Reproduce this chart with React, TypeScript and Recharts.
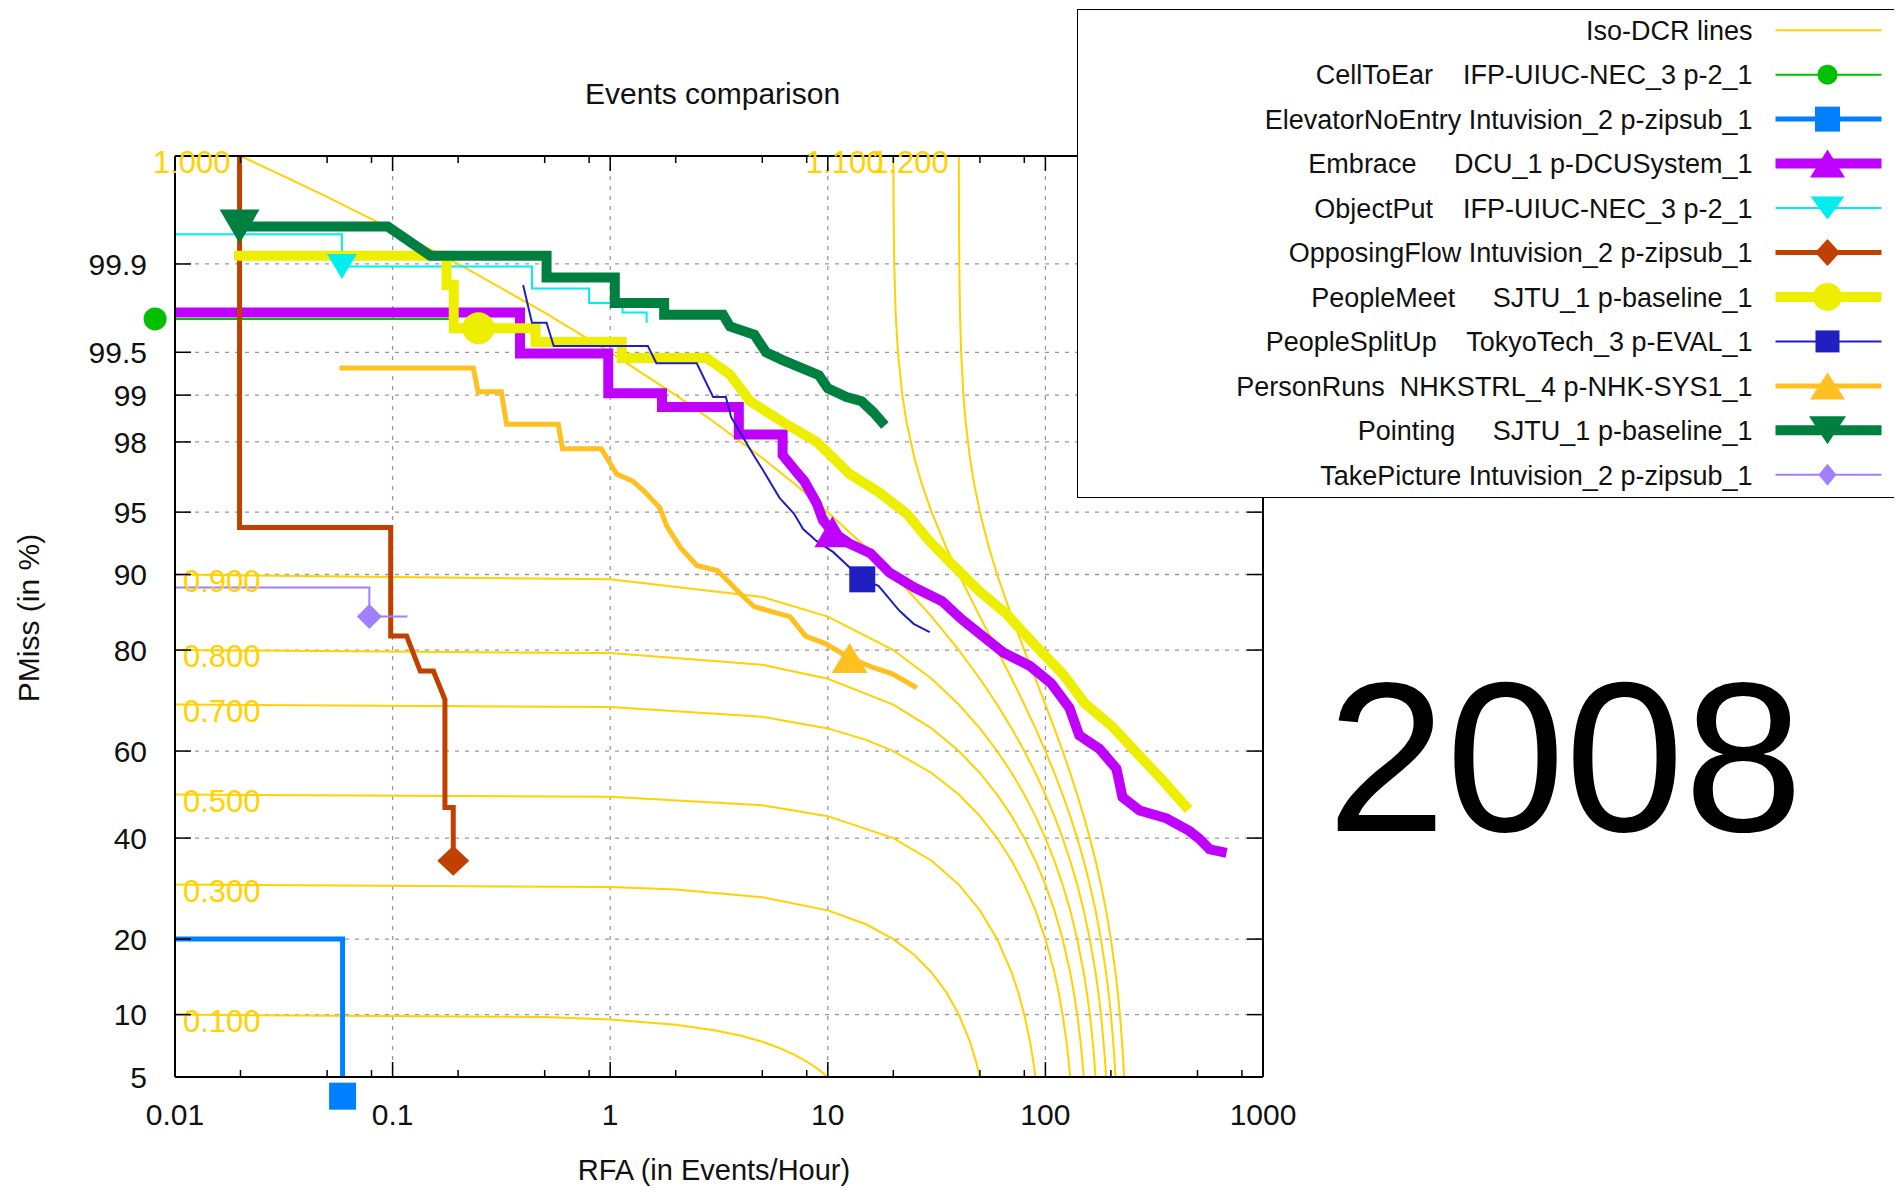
import { LineChart, Line, XAxis, YAxis, CartesianGrid, ReferenceDot } from 'recharts';

const FONT = '"Liberation Sans", Arial, Helvetica, sans-serif';
const W = 1886;
const H = 1180;

// inverse standard normal CDF (Acklam) - DET plots use a normal-deviate PMiss axis
function probit(p: number) {
  const a = [-39.69683028665376, 220.9460984245205, -275.9285104469687, 138.357751867269, -30.66479806614716, 2.506628277459239];
  const b = [-54.47609879822406, 161.5858368580409, -155.6989798598866, 66.80131188771972, -13.28068155288572];
  const c = [-0.007784894002430293, -0.3223964580411365, -2.400758277161838, -2.549732539343734, 4.374664141464968, 2.938163982698783];
  const d = [0.007784695709041462, 0.3224671290700398, 2.445134137142996, 3.754408661907416];
  const lo = 0.02425;
  if (p < lo) {
    const q = Math.sqrt(-2 * Math.log(p));
    return (((((c[0] * q + c[1]) * q + c[2]) * q + c[3]) * q + c[4]) * q + c[5]) / ((((d[0] * q + d[1]) * q + d[2]) * q + d[3]) * q + 1);
  }
  if (p <= 1 - lo) {
    const q = p - 0.5;
    const r = q * q;
    return ((((((a[0] * r + a[1]) * r + a[2]) * r + a[3]) * r + a[4]) * r + a[5]) * q) / (((((b[0] * r + b[1]) * r + b[2]) * r + b[3]) * r + b[4]) * r + 1);
  }
  const q = Math.sqrt(-2 * Math.log(1 - p));
  return -(((((c[0] * q + c[1]) * q + c[2]) * q + c[3]) * q + c[4]) * q + c[5]) / ((((d[0] * q + d[1]) * q + d[2]) * q + d[3]) * q + 1);
}
const pz = (pct: number) => probit(pct / 100);

type Pt = [number, number]; // [RFA events/hour, PMiss %]

// ---- axes ----
const xMajorTicks = [0.01, 0.1, 1, 10, 100, 1000];
const xMajorLabels = ['0.01', '0.1', '1', '10', '100', '1000'];
const xMinorTicks = [0.02, 0.05, 0.08, 0.2, 0.5, 0.8, 2, 5, 8, 20, 50, 80, 200, 500, 800];
const yTickValues = [5, 10, 20, 40, 60, 80, 90, 95, 98, 99, 99.5, 99.9];
const yTickLabels = ['5', '10', '20', '40', '60', '80', '90', '95', '98', '99', '99.5', '99.9'];
const yBottom = 5;
const yTop = 99.99;

// ---- iso-DCR curves ----
const iso010: Pt[] = [[0.01, 10], [0.5, 9.75], [1, 9.5], [2, 9], [3, 8.5], [4, 8], [5, 7.5], [6, 7], [7, 6.5], [8, 6], [9, 5.5], [10, 5], [10.4, 4.8]];
const iso030: Pt[] = [[0.01, 30], [1, 29.5], [2, 29], [5, 27.5], [10, 25], [15, 22.5], [20, 20], [25, 17.5], [30, 15], [35, 12.5], [40, 10], [45, 7.5], [48, 6], [50, 5], [52, 4]];
const iso050: Pt[] = [[0.01, 50], [1, 49.5], [5, 47.5], [10, 45], [20, 40], [30, 35], [40, 30], [50, 25], [60, 20], [70, 15], [75, 12.5], [80, 10], [85, 7.5], [88, 6], [90, 5], [92, 4]];
const iso070: Pt[] = [[0.01, 70], [1, 69.5], [5, 67.5], [10, 65], [15, 62.5], [20, 60], [30, 55], [40, 50], [50, 45], [60, 40], [70, 35], [80, 30], [90, 25], [100, 20], [110, 15], [115, 12.5], [120, 10], [125, 7.5], [128, 6], [130, 5], [132, 4]];
const iso080: Pt[] = [[0.01, 80], [1, 79.5], [5, 77.5], [10, 75], [20, 70], [30, 65], [40, 60], [50, 55], [60, 50], [70, 45], [80, 40], [90, 35], [100, 30], [110, 25], [120, 20], [130, 15], [135, 12.5], [140, 10], [145, 7.5], [148, 6], [150, 5], [152, 4]];
const iso090: Pt[] = [[0.01, 90], [1, 89.5], [5, 87.5], [10, 85], [20, 80], [30, 75], [40, 70], [50, 65], [60, 60], [70, 55], [80, 50], [90, 45], [100, 40], [110, 35], [120, 30], [130, 25], [140, 20], [150, 15], [155, 12.5], [160, 10], [165, 7.5], [168, 6], [170, 5], [172, 4]];
const iso100: Pt[] = [[0.02, 99.99], [0.03, 99.985], [0.05, 99.975], [0.1, 99.95], [0.2, 99.9], [0.5, 99.75], [1, 99.5], [2, 99], [3, 98.5], [5, 97.5], [7, 96.5], [10, 95], [15, 92.5], [20, 90], [30, 85], [40, 80], [50, 75], [60, 70], [70, 65], [80, 60], [90, 55], [100, 50], [110, 45], [120, 40], [130, 35], [140, 30], [150, 25], [160, 20], [170, 15], [175, 12.5], [180, 10], [185, 7.5], [188, 6], [190, 5], [192, 4]];
const iso110: Pt[] = [[20.02, 99.99], [20.03, 99.985], [20.05, 99.975], [20.1, 99.95], [20.2, 99.9], [20.5, 99.75], [21, 99.5], [22, 99], [23, 98.5], [25, 97.5], [27, 96.5], [30, 95], [35, 92.5], [40, 90], [50, 85], [60, 80], [70, 75], [80, 70], [90, 65], [100, 60], [110, 55], [120, 50], [130, 45], [140, 40], [150, 35], [160, 30], [170, 25], [180, 20], [190, 15], [195, 12.5], [200, 10], [205, 7.5], [208, 6], [210, 5], [212, 4]];
const iso120: Pt[] = [[40.02, 99.99], [40.03, 99.985], [40.05, 99.975], [40.1, 99.95], [40.2, 99.9], [40.5, 99.75], [41, 99.5], [42, 99], [43, 98.5], [45, 97.5], [47, 96.5], [50, 95], [55, 92.5], [60, 90], [70, 85], [80, 80], [90, 75], [100, 70], [110, 65], [120, 60], [130, 55], [140, 50], [150, 45], [160, 40], [170, 35], [180, 30], [190, 25], [200, 20], [210, 15], [215, 12.5], [220, 10], [225, 7.5], [228, 6], [230, 5], [232, 4]];
const isoCurves = [iso010, iso030, iso050, iso070, iso080, iso090, iso100, iso110, iso120];

// labels at the left edge (PMiss level) and at the top edge (RFA where the curve leaves the top)
const isoLeftLabels = ['0.100', '0.300', '0.500', '0.700', '0.800', '0.900'];
const isoLeftAt = [10, 30, 50, 70, 80, 90];
const isoTopLabels = ['1.000', '1.100', '1.200'];
const isoTopAt = [0.02, 20.02, 40.02];

// ---- system DET curves ----
const cellToEar: Pt[] = [[0.0081, 99.72], [0.2, 99.72]];
const elevatorNoEntry: Pt[] = [[0.0095, 20], [0.0589, 20], [0.0589, 3.95]];
const embrace: Pt[] = [[0.0095, 99.75], [0.385, 99.75], [0.385, 99.49], [0.98, 99.49], [0.98, 99.03], [1.73, 99.03], [1.73, 98.8], [3.9, 98.8], [3.9, 98.2], [6.2, 98.2], [6.2, 97.6], [7.0, 97.1], [7.8, 96.6], [8.9, 95.5], [9.5, 94.5], [10.5, 93.7], [12.6, 92.8], [15.7, 92.0], [19.2, 90.2], [25, 88.6], [33.5, 87.0], [41, 84.7], [51, 82.3], [64, 79.6], [85, 77.3], [106, 74.2], [129, 69.3], [143, 63.5], [177, 60.5], [212, 56], [226, 49.4], [271, 46.3], [360, 44.5], [459, 41.6], [511, 39.8], [568, 37.5], [680, 36.7]];
const objectPut: Pt[] = [[0.0098, 99.945], [0.0585, 99.945], [0.0585, 99.895], [0.437, 99.895], [0.437, 99.84], [0.8, 99.84], [0.8, 99.79], [1.14, 99.79], [1.14, 99.75], [1.47, 99.75], [1.47, 99.7]];
const opposingFlow: Pt[] = [[0.0198, 99.999], [0.0198, 94], [0.098, 94], [0.098, 82.2], [0.116, 82.2], [0.134, 76.4], [0.154, 76.4], [0.174, 71], [0.174, 47], [0.19, 47], [0.19, 35]];
const peopleMeet: Pt[] = [[0.0187, 99.915], [0.177, 99.915], [0.177, 99.85], [0.191, 99.85], [0.191, 99.67], [0.454, 99.67], [0.454, 99.58], [1.13, 99.58], [1.13, 99.45], [2.77, 99.45], [3.55, 99.28], [4.4, 98.9], [6.1, 98.52], [8.9, 98.0], [12.6, 96.9], [17.1, 96.1], [23.1, 94.9], [29, 93.1], [36.5, 91.2], [49.2, 88.3], [66, 85.4], [89, 80.9], [120, 75.9], [152, 70.2], [204, 65.3], [271, 58.9], [346, 53.3], [455, 46.5]];
const peopleSplitUp: Pt[] = [[0.398, 99.85], [0.437, 99.7], [0.51, 99.7], [0.55, 99.55], [1.49, 99.55], [1.63, 99.4], [2.5, 99.4], [2.97, 98.97], [3.4, 98.97], [3.6, 98.6], [4.2, 98.0], [4.6, 97.55], [5.0, 97.1], [6.0, 95.8], [7.0, 94.9], [7.7, 93.9], [8.9, 93.0], [10.6, 92.1], [12.6, 90.7], [14.4, 89.5], [17.1, 88.8], [21.3, 85.8], [24.8, 84.0], [29.4, 82.8]];
const personRuns: Pt[] = [[0.057, 99.35], [0.235, 99.35], [0.247, 99.05], [0.316, 99.05], [0.334, 98.45], [0.577, 98.45], [0.604, 97.8], [0.91, 97.8], [1.07, 96.9], [1.27, 96.6], [1.46, 96.05], [1.69, 95.25], [1.82, 94.1], [2.1, 92.5], [2.5, 90.9], [3.1, 90.4], [3.55, 89.1], [4.1, 87.5], [4.6, 86.3], [6.7, 85.0], [7.9, 82.2], [9.8, 81.0], [12.6, 78.7], [16.2, 77.0], [19.8, 75.9], [25.6, 73.3]];
const pointing: Pt[] = [[0.0198, 99.953], [0.095, 99.953], [0.149, 99.915], [0.51, 99.915], [0.51, 99.87], [1.05, 99.87], [1.05, 99.79], [1.77, 99.79], [1.77, 99.74], [3.3, 99.74], [3.55, 99.68], [4.6, 99.63], [5.2, 99.5], [6.2, 99.43], [7.6, 99.35], [9.1, 99.27], [10.0, 99.1], [12.2, 98.97], [14.3, 98.9], [16.2, 98.7], [18.3, 98.42]];
const takePicture: Pt[] = [[0.0098, 88.6], [0.0782, 88.6], [0.0782, 85.0], [0.117, 85.0]];

// min DCR points (marker positions)
const cellToEarMark: Pt = [0.0081, 99.72];
const elevatorNoEntryMark: Pt = [0.0589, 3.95];
const embraceMark: Pt = [10.5, 93.7];
const objectPutMark: Pt = [0.0585, 99.895];
const opposingFlowMark: Pt = [0.19, 35];
const peopleMeetMark: Pt = [0.248, 99.67];
const peopleSplitUpMark: Pt = [14.4, 89.5];
const personRunsMark: Pt = [12.6, 78.7];
const pointingMark: Pt = [0.0198, 99.953];
const takePictureMark: Pt = [0.0782, 85.0];

const ISO_COLOR = '#ffd200';

const series = [
  { label: 'CellToEar    IFP-UIUC-NEC_3 p-2_1', data: cellToEar, mark: cellToEarMark, color: '#00c000', width: 2, shape: 'circle', size: [23, 23], lsize: [20, 20] },
  { label: 'ElevatorNoEntry Intuvision_2 p-zipsub_1', data: elevatorNoEntry, mark: elevatorNoEntryMark, color: '#0080ff', width: 5, shape: 'square', size: [27, 27], lsize: [25, 25] },
  { label: 'Embrace     DCU_1 p-DCUSystem_1', data: embrace, mark: embraceMark, color: '#c000ff', width: 10, shape: 'up', size: [36, 31], lsize: [35, 28] },
  { label: 'ObjectPut    IFP-UIUC-NEC_3 p-2_1', data: objectPut, mark: objectPutMark, color: '#00eeee', width: 2, shape: 'down', size: [30, 25], lsize: [34, 23] },
  { label: 'OpposingFlow Intuvision_2 p-zipsub_1', data: opposingFlow, mark: opposingFlowMark, color: '#c04000', width: 5, shape: 'diamond', size: [32, 30], lsize: [25, 27] },
  { label: 'PeopleMeet     SJTU_1 p-baseline_1', data: peopleMeet, mark: peopleMeetMark, color: '#eeee00', width: 10, shape: 'circle', size: [32, 32], lsize: [29, 28] },
  { label: 'PeopleSplitUp    TokyoTech_3 p-EVAL_1', data: peopleSplitUp, mark: peopleSplitUpMark, color: '#2020c0', width: 2, shape: 'square', size: [26, 26], lsize: [24, 22] },
  { label: 'PersonRuns  NHKSTRL_4 p-NHK-SYS1_1', data: personRuns, mark: personRunsMark, color: '#ffc020', width: 5, shape: 'up', size: [36, 30], lsize: [35, 27] },
  { label: 'Pointing     SJTU_1 p-baseline_1', data: pointing, mark: pointingMark, color: '#008040', width: 10, shape: 'down', size: [40, 34], lsize: [37, 28] },
  { label: 'TakePicture Intuvision_2 p-zipsub_1', data: takePicture, mark: takePictureMark, color: '#a080ff', width: 2, shape: 'diamond', size: [25, 25], lsize: [18, 22] },
];

const toRows = (pts: Pt[]) => pts.map(([rfa, pmiss]) => ({ x: rfa, z: pz(pmiss) }));
const yTickZ = yTickValues.map(pz);
const xAllTicks = [...xMajorTicks, ...xMinorTicks].sort((a, b) => a - b);

function drawMarker(shape: string, cx: number, cy: number, w: number, h: number, color: string) {
  const hw = w / 2;
  const hh = h / 2;
  if (shape === 'circle') return <ellipse cx={cx} cy={cy} rx={hw} ry={hh} fill={color} />;
  if (shape === 'square') return <rect x={cx - hw} y={cy - hh} width={w} height={h} fill={color} />;
  if (shape === 'up') return <polygon points={`${cx},${cy - hh} ${cx + hw},${cy + hh} ${cx - hw},${cy + hh}`} fill={color} />;
  if (shape === 'down') return <polygon points={`${cx - hw},${cy - hh} ${cx + hw},${cy - hh} ${cx},${cy + hh}`} fill={color} />;
  return <polygon points={`${cx},${cy - hh} ${cx + hw},${cy} ${cx},${cy + hh} ${cx - hw},${cy}`} fill={color} />;
}

const BottomTick = (props: any) => {
  const { x, y, payload } = props;
  const i = xMajorTicks.indexOf(payload.value);
  return (
    <g>
      <line x1={x} x2={x} y1={y} y2={y - (i >= 0 ? 15 : 7)} stroke="#000" strokeWidth={1.5} />
      {i >= 0 && (
        <text x={x} y={y + 48} textAnchor="middle" fontSize={30} fill="#111" fontFamily={FONT}>
          {xMajorLabels[i]}
        </text>
      )}
    </g>
  );
};

const TopTick = (props: any) => {
  const { x, y, payload } = props;
  const major = xMajorTicks.includes(payload.value);
  return <line x1={x} x2={x} y1={y} y2={y + (major ? 15 : 7)} stroke="#000" strokeWidth={1.5} />;
};

const LeftTick = (props: any) => {
  const { x, y, payload } = props;
  const i = yTickZ.findIndex((v) => Math.abs(v - payload.value) < 1e-6);
  return (
    <g>
      <line x1={x} x2={x + 16} y1={y} y2={y} stroke="#000" strokeWidth={1.5} />
      <text x={x - 28} y={y} dy="0.36em" textAnchor="end" fontSize={30} fill="#111" fontFamily={FONT}>
        {yTickLabels[i]}
      </text>
    </g>
  );
};

const RightTick = (props: any) => {
  const { x, y } = props;
  return <line x1={x} x2={x - 16} y1={y} y2={y} stroke="#000" strokeWidth={1.5} />;
};

const axisLine = { stroke: '#000', strokeWidth: 2 };

const LEG_ROW0 = 20.2;
const LEG_STEP = 44.46;

function LegendBox() {
  const rows = [{ label: 'Iso-DCR lines', color: ISO_COLOR, width: 2, shape: '', lsize: [0, 0] }, ...series];
  return (
    <div
      style={{
        position: 'absolute',
        left: 1069,
        top: 1,
        width: 821,
        height: 489,
        boxSizing: 'border-box',
        border: '1.5px solid #000',
        background: '#fff',
      }}
    >
      <svg width={818} height={486} style={{ display: 'block' }}>
        {rows.map((r, i) => {
          const cy = LEG_ROW0 + i * LEG_STEP;
          return (
            <g key={i}>
              <text
                x={674.5}
                y={cy}
                dy="0.36em"
                textAnchor="end"
                fontSize={27}
                fill="#111"
                fontFamily={FONT}
                style={{ whiteSpace: 'pre' }}
              >
                {r.label}
              </text>
              <line x1={697.5} x2={803.5} y1={cy} y2={cy} stroke={r.color} strokeWidth={r.width} />
              {r.shape && drawMarker(r.shape, 749.5, cy, r.lsize[0], r.lsize[1], r.color)}
            </g>
          );
        })}
      </svg>
    </div>
  );
}

export default function App() {
  return (
    <div style={{ position: 'relative', width: W, height: H, fontFamily: FONT }}>
      <LineChart width={W} height={H} margin={{ top: 138, right: 621, bottom: 51, left: 107 }}>
        <CartesianGrid
          stroke="#999"
          strokeWidth={1.3}
          strokeDasharray="4 6"
          horizontalValues={yTickZ}
          verticalValues={xMajorTicks}
        />
        <XAxis
          dataKey="x"
          type="number"
          scale="log"
          domain={[0.01, 1000]}
          allowDataOverflow
          ticks={xAllTicks}
          interval={0}
          tickSize={0}
          tickMargin={0}
          tickLine={false}
          tick={(p: any) => <BottomTick {...p} />}
          axisLine={axisLine}
          height={60}
        />
        <XAxis
          xAxisId="top"
          orientation="top"
          dataKey="x"
          type="number"
          scale="log"
          domain={[0.01, 1000]}
          allowDataOverflow
          ticks={xAllTicks}
          interval={0}
          tickSize={0}
          tickMargin={0}
          tickLine={false}
          tick={(p: any) => <TopTick {...p} />}
          axisLine={axisLine}
          height={10}
        />
        <YAxis
          type="number"
          domain={[pz(yBottom), pz(yTop)]}
          allowDataOverflow
          ticks={yTickZ}
          interval={0}
          tickSize={0}
          tickMargin={0}
          tickLine={false}
          tick={(p: any) => <LeftTick {...p} />}
          axisLine={axisLine}
          width={60}
        />
        <YAxis
          yAxisId="right"
          orientation="right"
          type="number"
          domain={[pz(yBottom), pz(yTop)]}
          allowDataOverflow
          ticks={yTickZ}
          interval={0}
          tickSize={0}
          tickMargin={0}
          tickLine={false}
          tick={(p: any) => <RightTick {...p} />}
          axisLine={axisLine}
          width={10}
        />

        {isoCurves.map((c, i) => (
          <Line
            key={`iso${i}`}
            name={`iso${i}`}
            data={toRows(c)}
            dataKey="z"
            type="linear"
            stroke={ISO_COLOR}
            strokeWidth={2}
            dot={false}
            activeDot={false}
            isAnimationActive={false}
          />
        ))}

        {series.map((s) => (
          <Line
            key={s.label}
            name={s.label}
            data={toRows(s.data)}
            dataKey="z"
            type="linear"
            stroke={s.color}
            strokeWidth={s.width}
            strokeLinejoin="miter"
            dot={false}
            activeDot={false}
            isAnimationActive={false}
          />
        ))}

        {isoLeftLabels.map((t, i) => (
          <ReferenceDot
            key={`ll${i}`}
            x={0.01}
            y={pz(isoLeftAt[i])}
            r={1}
            ifOverflow="visible"
            zIndex={1500}
            shape={(p: any) => (
              <text x={p.cx + 8} y={p.cy + 6} dy="0.36em" fontSize={31} fill={ISO_COLOR} fontFamily={FONT}>
                {t}
              </text>
            )}
          />
        ))}
        {isoTopLabels.map((t, i) => (
          <ReferenceDot
            key={`tl${i}`}
            x={isoTopAt[i]}
            y={pz(yTop)}
            r={1}
            ifOverflow="visible"
            zIndex={1500}
            shape={(p: any) => (
              <text x={p.cx - 10} y={p.cy + 6} dy="0.36em" textAnchor="end" fontSize={31} fill={ISO_COLOR} fontFamily={FONT}>
                {t}
              </text>
            )}
          />
        ))}

        {series.map((s) => (
          <ReferenceDot
            key={`m-${s.label}`}
            x={s.mark[0]}
            y={pz(s.mark[1])}
            r={1}
            ifOverflow="visible"
            zIndex={1600}
            shape={(p: any) => drawMarker(s.shape, p.cx, p.cy, s.size[0], s.size[1], s.color)}
          />
        ))}
      </LineChart>

      <svg width={W} height={H} style={{ position: 'absolute', left: 0, top: 0, pointerEvents: 'none' }}>
        <text x={704.6} y={96} textAnchor="middle" fontSize={30} fill="#111" fontFamily={FONT}>
          Events comparison
        </text>
        <text x={706} y={1172} textAnchor="middle" fontSize={29} fill="#111" fontFamily={FONT}>
          RFA (in Events/Hour)
        </text>
        <text
          x={30.5}
          y={610}
          textAnchor="middle"
          fontSize={30}
          fill="#111"
          fontFamily={FONT}
          transform="rotate(-90 30.5 610)"
        >
          PMiss (in %)
        </text>
        <text x={1557} y={823} textAnchor="middle" fontSize={214} fill="#000" fontFamily={FONT}>
          2008
        </text>
      </svg>

      <LegendBox />
    </div>
  );
}
